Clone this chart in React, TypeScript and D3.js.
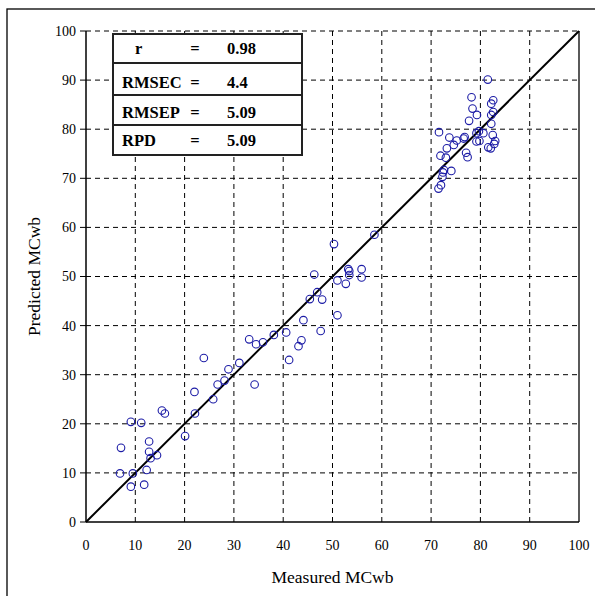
import React from "react";
import * as d3 from "d3";

const measured: number[] = [
  15.4, 16.0, 22.1, 25.8, 9.1, 11.2, 20.1, 12.8, 7.1, 12.8, 14.4, 13.1, 12.3, 6.9, 9.5, 9.1, 11.8,
  23.9, 22.0, 26.7, 28.1, 28.9, 31.1, 33.1, 34.5, 34.2, 35.9, 38.1, 40.6, 41.2, 43.1, 43.7, 44.1,
  47.6, 45.4, 47.9, 46.9, 46.3, 51.0, 51.0, 52.7, 53.4, 53.4, 53.2, 55.9, 55.9, 50.3, 58.5,
  81.5, 78.2, 82.6, 82.2, 78.4, 79.3, 82.6, 82.2, 77.7, 82.2, 71.6, 79.7, 79.2, 80.6, 82.5, 76.8,
  76.6, 73.7, 75.2, 74.6, 79.2, 79.8, 83.0, 82.8, 81.6, 82.1, 73.2, 77.1, 77.4, 71.9, 73.0, 72.6,
  74.1, 72.4, 72.3, 72.0, 71.5,
];
const predicted: number[] = [
  22.7, 22.1, 22.1, 25.0, 20.4, 20.2, 17.5, 16.4, 15.1, 14.3, 13.6, 13.0, 10.6, 9.9, 9.9, 7.2, 7.6,
  33.4, 26.5, 28.0, 28.8, 31.1, 32.4, 37.2, 36.2, 28.0, 36.6, 38.1, 38.6, 33.0, 35.8, 37.0, 41.1,
  38.9, 45.4, 45.3, 46.8, 50.4, 42.1, 49.2, 48.5, 50.3, 51.1, 51.5, 51.5, 49.8, 56.6, 58.5,
  90.1, 86.5, 85.9, 85.2, 84.2, 82.9, 83.5, 82.9, 81.7, 81.1, 79.4, 79.6, 79.2, 79.2, 78.8, 78.4,
  78.1, 78.3, 77.7, 76.8, 77.5, 77.6, 77.6, 77.0, 76.3, 76.1, 76.1, 75.2, 74.3, 74.6, 74.2, 71.7,
  71.5, 71.2, 70.3, 68.6, 67.9,
];
const ticks: number[] = [0, 10, 20, 30, 40, 50, 60, 70, 80, 90, 100];
const statLabels: string[] = ["r", "RMSEC", "RMSEP", "RPD"];
const statValues: string[] = ["0.98", "4.4", "5.09", "5.09"];

const L = 86, R = 579, T = 31, B = 522;

export default function App() {
  const x = d3.scaleLinear().domain([0, 100]).range([L, R]);
  const y = d3.scaleLinear().domain([0, 100]).range([B, T]);
  const serif = "Liberation Serif, Times New Roman, serif";
  const rowTops = [34, 63, 95, 125, 155];
  const baselines = [54, 88, 117.5, 146];
  const line = d3.line<number>().x((d) => x(d)).y((d) => y(d));
  return (
    <svg width={595} height={596} style={{ position: "absolute", left: 0, top: 0, background: "#fff", fontFamily: serif }}>
      <rect x={7} y={9} width={700} height={700} fill="#fff" stroke="#000" strokeWidth={1.3} />
      {ticks.slice(1).map((t) => (
        <line key={"h" + t} x1={L} x2={R} y1={y(t)} y2={y(t)} stroke="#000" strokeWidth={1} strokeDasharray="5,4" />
      ))}
      {ticks.slice(1, -1).map((t) => (
        <line key={"v" + t} x1={x(t)} x2={x(t)} y1={T} y2={B} stroke="#000" strokeWidth={1} strokeDasharray="5,4" />
      ))}
      <line x1={R} x2={R} y1={T} y2={B} stroke="#000" strokeWidth={1.3} />
      <line x1={L} x2={L} y1={T} y2={B} stroke="#000" strokeWidth={1.5} />
      <line x1={L} x2={R} y1={B} y2={B} stroke="#000" strokeWidth={1.5} />
      {ticks.map((t) => (
        <g key={"yt" + t}>
          <line x1={L - 6} x2={L} y1={y(t)} y2={y(t)} stroke="#000" strokeWidth={1} />
          <text x={L - 10} y={y(t)} dy="0.35em" textAnchor="end" fontSize={14}>{t}</text>
        </g>
      ))}
      {ticks.map((t) => (
        <text key={"xt" + t} x={x(t)} y={550} textAnchor="middle" fontSize={14}>{t}</text>
      ))}
      <text x={(L + R) / 2} y={583} textAnchor="middle" fontSize={17.5}>Measured MCwb</text>
      <text transform={`translate(40,${(T + B) / 2}) rotate(-90)`} textAnchor="middle" fontSize={17.5}>Predicted MCwb</text>
      <path d={line([0, 100]) as string} stroke="#000" strokeWidth={2} fill="none" />
      {measured.map((m, i) => (
        <circle key={"p" + i} cx={x(m)} cy={y(predicted[i])} r={3.8} fill="none" stroke="#1c1ca6" strokeWidth={1.1} />
      ))}
      <rect x={113} y={rowTops[0]} width={189} height={rowTops[4] - rowTops[0]} fill="#fff" stroke="#222" strokeWidth={2} />
      {rowTops.slice(1, 4).map((ry, i) => (
        <line key={"r" + i} x1={113} x2={302} y1={ry} y2={ry} stroke="#222" strokeWidth={2} />
      ))}
      {statLabels.map((s, i) => (
        <g key={"s" + i} fontWeight="bold" fontSize={16.5}>
          <text x={i === 0 ? 135 : 122} y={baselines[i]}>{s}</text>
          <text x={195} y={baselines[i]} textAnchor="middle">=</text>
          <text x={227} y={baselines[i]}>{statValues[i]}</text>
        </g>
      ))}
    </svg>
  );
}
